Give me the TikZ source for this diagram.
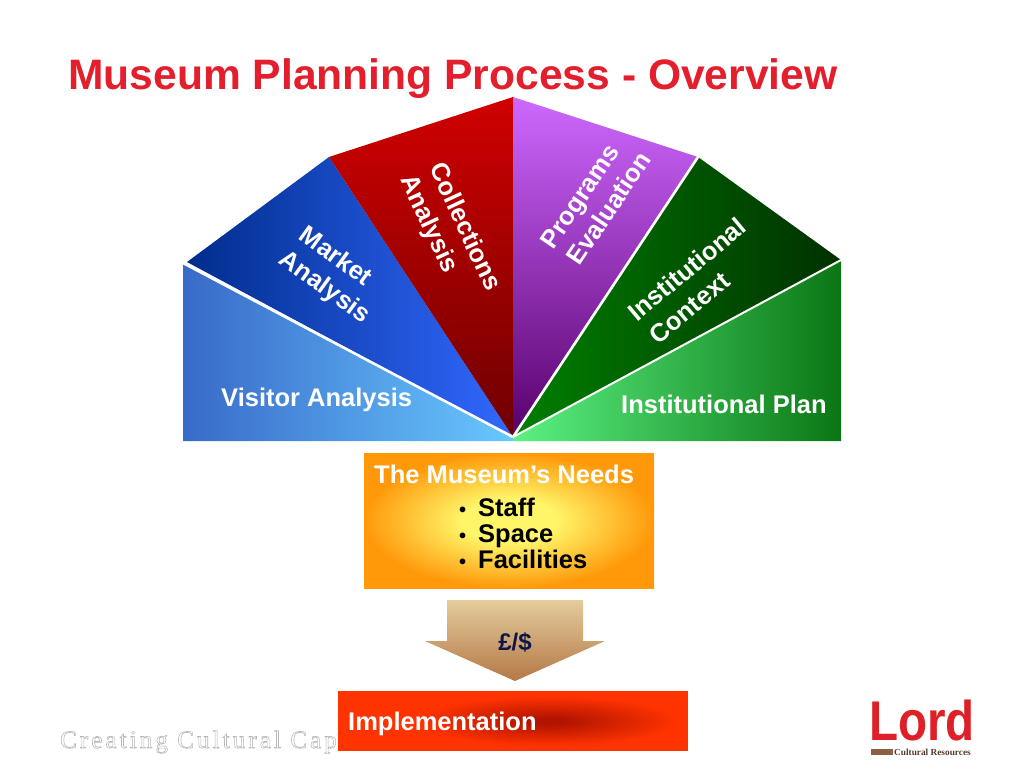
\documentclass[tikz,border=0pt]{standalone}
\usepackage{fontspec}
\setmainfont{Liberation Sans}
\newfontfamily\serifspaced[LetterSpace=12.4]{Liberation Serif}
\newfontfamily\logoserif{Liberation Serif}
\definecolor{titlered}{RGB}{227,30,45}
\definecolor{visL}{RGB}{56,106,200}\definecolor{visR}{RGB}{104,200,255}
\definecolor{mktL}{RGB}{0,45,140}\definecolor{mktR}{RGB}{50,104,255}
\definecolor{colT}{RGB}{208,0,0}\definecolor{colB}{RGB}{110,0,0}
\definecolor{prgT}{RGB}{206,104,255}\definecolor{prgB}{RGB}{88,0,108}
\definecolor{ctxL}{RGB}{0,128,0}\definecolor{ctxR}{RGB}{0,48,0}
\definecolor{plnL}{RGB}{92,242,130}\definecolor{plnR}{RGB}{10,118,20}
\definecolor{needO}{RGB}{255,153,10}\definecolor{needY}{RGB}{255,245,105}
\definecolor{arrT}{RGB}{228,204,155}\definecolor{arrB}{RGB}{180,120,70}
\definecolor{implO}{RGB}{255,51,0}\definecolor{implD}{RGB}{178,20,0}
\definecolor{logored}{RGB}{222,32,40}\definecolor{logobrown}{RGB}{140,95,70}
\definecolor{tagline}{RGB}{185,185,185}
\definecolor{moneyblue}{RGB}{12,22,72}
\pgfdeclareradialshading{needsglow}{\pgfpoint{0bp}{0bp}}{color(0bp)=(needY); color(8bp)=(needY); color(25bp)=(needO); color(100bp)=(needO)}
\pgfdeclareradialshading{implglow}{\pgfpoint{0bp}{0bp}}{color(0bp)=(implD); color(3bp)=(implD); color(25bp)=(implO); color(100bp)=(implO)}
\tikzset{
  x=1pt,y=-1pt,
  lab/.style={font=\fontsize{25.5}{31}\selectfont\bfseries,text=white,align=center,inner sep=0pt},
  bul/.style={font=\fontsize{25.5}{26}\selectfont\bfseries,text=black,anchor=base west,inner sep=0pt},
  gap/.style={draw=white,line width=2.6pt},
}
\begin{document}
\begin{tikzpicture}
\useasboundingbox (0,0) rectangle (1024,768);
\coordinate (C) at (513,437);
\coordinate (VT) at (183,263);
\coordinate (MT) at (187,262);
\coordinate (K) at (329,157);
\coordinate (A) at (513,97);
\coordinate (P) at (698,157);
\coordinate (R) at (841,260);

\node[font=\fontsize{42.6}{43}\selectfont\bfseries,text=titlered,anchor=base west,inner sep=0pt] (title) at (68,89) {Museum Planning Process - Overview};

\shade[left color=visL,right color=visR] (VT) -- (C) -- (513,441) -- (183,441) -- cycle;
\shade[left color=mktL,right color=mktR] (MT) -- (K) -- (C) -- cycle;
\shade[top color=colT,bottom color=colB] (K) -- (A) -- (C) -- cycle;
\shade[top color=prgT,bottom color=prgB] (A) -- (P) -- (C) -- cycle;
\shade[left color=ctxL,right color=ctxR] (P) -- (R) -- (C) -- cycle;
\shade[left color=plnL,right color=plnR] (C) -- (R) -- (841,441) -- (513,441) -- cycle;
\draw[gap] (VT) -- (C);
\draw[gap] (P) -- (C);
\draw[gap,line width=2pt] (R) -- (C);

\node[lab,rotate=-36] (market) at (326,270) {Market\\\hspace*{18pt}Analysis};
\node[lab,rotate=-65] (coll) at (450,234) {Collections\\Analysis\hspace*{36pt}};
\node[lab,rotate=56] (prog) at (596,200) {Programs\hspace*{12pt}\\Evaluation};
\node[lab,rotate=40] (inst) at (697,281) {Institutional\\Context\hspace*{46pt}};
\node[lab,anchor=base west] (visitor) at (221,406) {Visitor Analysis};
\node[lab,anchor=base west] (plan) at (621,413) {Institutional Plan};

\shade[shading=needsglow] (364,453) rectangle (654,588);
\node[lab,anchor=base west] (needs) at (374,483) {The Museum’s Needs};
\node[bul] (b1) at (459,516) {\fontsize{20}{20}\selectfont•};
\node[bul] (s1) at (478,516) {Staff};
\node[bul] (b2) at (459,542) {\fontsize{20}{20}\selectfont•};
\node[bul] (s2) at (478,542) {Space};
\node[bul] (b3) at (459,568) {\fontsize{20}{20}\selectfont•};
\node[bul] (s3) at (478,568) {Facilities};

\shade[top color=arrT,bottom color=arrB] (447,600) -- (583,600) -- (583,641) -- (605,641) -- (515,681) -- (425,641) -- (447,641) -- cycle;
\node[font=\fontsize{24}{24}\selectfont\bfseries,text=moneyblue,anchor=base,inner sep=0pt] (money) at (515,650) {£/\$};

\node[anchor=base west,inner sep=0pt,text=tagline,font=\fontsize{25}{25}\selectfont\serifspaced] (tag) at (60,748) {\special{pdf:code 1 Tr 0.6 w}Creating Cultural Cap\special{pdf:code 0 Tr}};

\fill[implO] (338,691) rectangle (688,751);
\begin{scope}
\clip (338,691) rectangle (688,751);
\shade[shading=implglow] (548,721) ellipse [x radius=130,y radius=25];
\end{scope}
\node[lab,anchor=base west] (impl) at (348,730) {Implementation};

\node[anchor=base west,inner sep=0pt,text=logored,font=\fontsize{56}{56}\selectfont\bfseries,xscale=.85] (lord) at (869,740) {Lord};
\fill[logobrown] (871,749) rectangle (893,755);
\node[anchor=base west,inner sep=0pt,text=logobrown!60!black,font=\fontsize{9.3}{9.3}\selectfont\logoserif\bfseries] (res) at (894,755) {Cultural Resources};
\end{tikzpicture}
\end{document}
